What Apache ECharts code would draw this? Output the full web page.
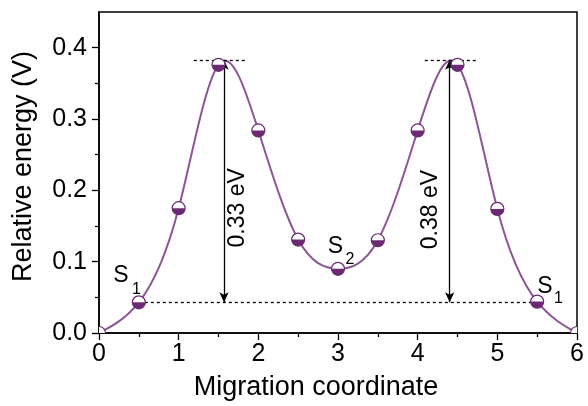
<!DOCTYPE html>
<html>
<head>
<meta charset="utf-8">
<script src="https://cdn.jsdelivr.net/npm/echarts@6/dist/echarts.min.js"></script>
<style>
  html, body { margin: 0; padding: 0; background: #fff; }
  #chart { width: 588px; height: 406px; }
</style>
</head>
<body>
<div id="chart"></div>
<script>
// Migration path energy profile
const coord  = [0, 0.5, 1, 1.5, 2, 2.5, 3, 3.5, 4, 4.5, 5, 5.5, 6];
const energy = [0, 0.043, 0.175, 0.376, 0.284, 0.131, 0.090, 0.130, 0.284, 0.376, 0.174, 0.044, 0];

const xTicks = [0, 1, 2, 3, 4, 5, 6];
const yTicks = [0.0, 0.1, 0.2, 0.3, 0.4];
const yMinorTicks = [0.05, 0.15, 0.25, 0.35];

// energy levels used by the barrier annotations
const baseLevel = 0.043;
const peakLevel = 0.383;
const barrierLabels = ['0.33 eV', '0.38 eV'];

const FONT = '"Liberation Sans", Arial, Helvetica, sans-serif';
const LINE_COLOR = '#8c5595';
const MARK_COLOR = '#6b2a71';
const Y_MAX = 0.45;

const points = coord.map((x, i) => [x, energy[i]]);

// Natural cubic spline slopes at each knot
function splineSlopes(xs, ys) {
  const n = xs.length;
  const h = [], a = [], b = [], c = [], d = [];
  for (let i = 0; i < n - 1; i++) h.push(xs[i + 1] - xs[i]);
  const M = new Array(n).fill(0);
  for (let i = 1; i < n - 1; i++) {
    a[i] = h[i - 1]; b[i] = 2 * (h[i - 1] + h[i]); c[i] = h[i];
    d[i] = 6 * ((ys[i + 1] - ys[i]) / h[i] - (ys[i] - ys[i - 1]) / h[i - 1]);
  }
  for (let i = 2; i < n - 1; i++) {
    const w = a[i] / b[i - 1];
    b[i] -= w * c[i - 1]; d[i] -= w * d[i - 1];
  }
  for (let i = n - 2; i >= 1; i--) {
    M[i] = (d[i] - (i < n - 2 ? c[i] * M[i + 1] : 0)) / b[i];
  }
  const m = [];
  for (let i = 0; i < n; i++) {
    if (i < n - 1) {
      m.push((ys[i + 1] - ys[i]) / h[i] - h[i] * (2 * M[i] + M[i + 1]) / 6);
    } else {
      m.push((ys[i] - ys[i - 1]) / h[i - 1] + h[i - 1] * (M[i - 1] + 2 * M[i]) / 6);
    }
  }
  return m;
}
const slopes = splineSlopes(coord, energy);

const chart = echarts.init(document.getElementById('chart'), null, { renderer: 'canvas' });

const dashed = { color: '#000', width: 1.3, type: [3, 3] };
const solid = { color: '#000', width: 1.3, type: 'solid' };

const seg = (x0, y0, x1, y1, style, arrows) => [
  { coord: [x0, y0], symbol: arrows ? 'arrow' : 'none', lineStyle: style },
  { coord: [x1, y1], symbol: arrows ? 'arrow' : 'none' }
];

const tickStyle = { color: '#000', width: 1.3 };

chart.setOption({
  animation: false,
  grid: { left: 99, right: 11, top: 12, bottom: 71 },
  xAxis: {
    type: 'value',
    min: xTicks[0], max: xTicks[xTicks.length - 1], interval: 1,
    name: 'Migration coordinate',
    nameLocation: 'middle', nameGap: 41,
    nameTextStyle: { fontFamily: FONT, fontSize: 27, color: '#000', padding: [0, 44, 0, 0] },
    axisLine: { onZero: false, lineStyle: { color: '#000', width: 1.5 } },
    axisTick: { show: true, inside: false, length: 7, lineStyle: tickStyle },
    minorTick: { show: true, splitNumber: 2, length: 4, lineStyle: tickStyle },
    splitLine: { show: false },
    axisLabel: { fontFamily: FONT, fontSize: 25, color: '#000', margin: 9 }
  },
  yAxis: [
    {
      type: 'value',
      min: 0, max: Y_MAX, interval: 0.1,
      name: 'Relative energy (V)',
      nameLocation: 'middle', nameGap: 62,
      nameTextStyle: { fontFamily: FONT, fontSize: 27, color: '#000', padding: [0, 0, 0, 12] },
      axisLine: { onZero: false, lineStyle: { color: '#000', width: 1.5 } },
      axisTick: { show: true, inside: false, length: 7, lineStyle: tickStyle, customValues: yTicks },
      minorTick: { show: false },
      splitLine: { show: false },
      axisLabel: {
        fontFamily: FONT, fontSize: 25, color: '#000', margin: 12,
        customValues: yTicks,
        formatter: v => v.toFixed(1)
      }
    },
    {
      // short intermediate ticks
      type: 'value',
      position: 'left',
      min: 0, max: Y_MAX,
      axisLine: { show: false, onZero: false },
      axisTick: { show: true, inside: false, length: 4, lineStyle: tickStyle, customValues: yMinorTicks },
      axisLabel: { show: false },
      splitLine: { show: false }
    }
  ],
  series: [
    {
      // spline through the energy points, drawn as cubic Bezier segments
      type: 'custom',
      data: [0],
      clip: true,
      z: 2,
      silent: true,
      renderItem: (params, api) => {
        let d = '';
        for (let i = 0; i < coord.length; i++) {
          const p = api.coord([coord[i], energy[i]]);
          if (i === 0) { d += 'M' + p[0] + ',' + p[1]; continue; }
          const h = coord[i] - coord[i - 1];
          const c1 = api.coord([coord[i - 1] + h / 3, energy[i - 1] + slopes[i - 1] * h / 3]);
          const c2 = api.coord([coord[i] - h / 3, energy[i] - slopes[i] * h / 3]);
          d += 'C' + c1[0] + ',' + c1[1] + ' ' + c2[0] + ',' + c2[1] + ' ' + p[0] + ',' + p[1];
        }
        return {
          type: 'path',
          shape: { pathData: d },
          style: { fill: null, stroke: LINE_COLOR, lineWidth: 2 }
        };
      }
    },
    {
      // half-filled circle markers
      type: 'custom',
      data: points,
      yAxisIndex: 1,
      clip: true,
      z: 5,
      renderItem: (params, api) => {
        const p = api.coord([api.value(0), api.value(1)]);
        const r = 6.5;
        return {
          type: 'group',
          children: [
            { type: 'circle', shape: { cx: p[0], cy: p[1], r: r }, style: { fill: '#fff', stroke: null } },
            { type: 'sector', shape: { cx: p[0], cy: p[1], r0: 0, r: r, startAngle: 0, endAngle: Math.PI, clockwise: true }, style: { fill: MARK_COLOR } },
            { type: 'circle', shape: { cx: p[0], cy: p[1], r: r }, style: { fill: null, stroke: MARK_COLOR, lineWidth: 1.2 } }
          ]
        };
      }
    },
    {
      // barrier guides and arrows
      type: 'line',
      data: [],
      z: 3,
      markLine: {
        silent: true,
        symbol: ['none', 'none'],
        symbolSize: [7, 10],
        label: { show: false },
        lineStyle: solid,
        data: [
          seg(0.5, baseLevel, 5.5, baseLevel, dashed, false),
          seg(1.19, peakLevel, 1.85, peakLevel, dashed, false),
          seg(4.09, peakLevel, 4.74, peakLevel, dashed, false),
          seg(1.569, baseLevel, 1.569, peakLevel, solid, true),
          seg(4.402, baseLevel, 4.402, peakLevel, solid, true)
        ]
      }
    }
  ]
});

// text annotations and plot frame placed in data coordinates
const px = (x, y) => chart.convertToPixel({ xAxisIndex: 0, yAxisIndex: 0 }, [x, y]);
const txt = (x, y, text, size, rotation) => {
  const p = px(x, y);
  return {
    type: 'text', x: p[0], y: p[1], rotation: rotation || 0, z: 20,
    style: { text: text, fontFamily: FONT, fontSize: size, fill: '#000', align: 'center', verticalAlign: 'middle' }
  };
};
const tl = px(xTicks[0], Y_MAX);
const br = px(xTicks[xTicks.length - 1], 0);

chart.setOption({
  graphic: [
    {
      type: 'rect', z: 1, silent: true,
      shape: { x: tl[0], y: tl[1], width: br[0] - tl[0], height: br[1] - tl[1] },
      style: { fill: null, stroke: '#000', lineWidth: 1.5 }
    },
    txt(0.274, 0.080, 'S', 23), txt(0.470, 0.061, '1', 16),
    txt(2.968, 0.121, 'S', 23), txt(3.150, 0.103, '2', 16),
    txt(5.598, 0.065, 'S', 23), txt(5.768, 0.048, '1', 16),
    txt(1.745, 0.1755, barrierLabels[0], 23, Math.PI / 2),
    txt(4.167, 0.173, barrierLabels[1], 23, Math.PI / 2)
  ]
});
</script>
</body>
</html>
